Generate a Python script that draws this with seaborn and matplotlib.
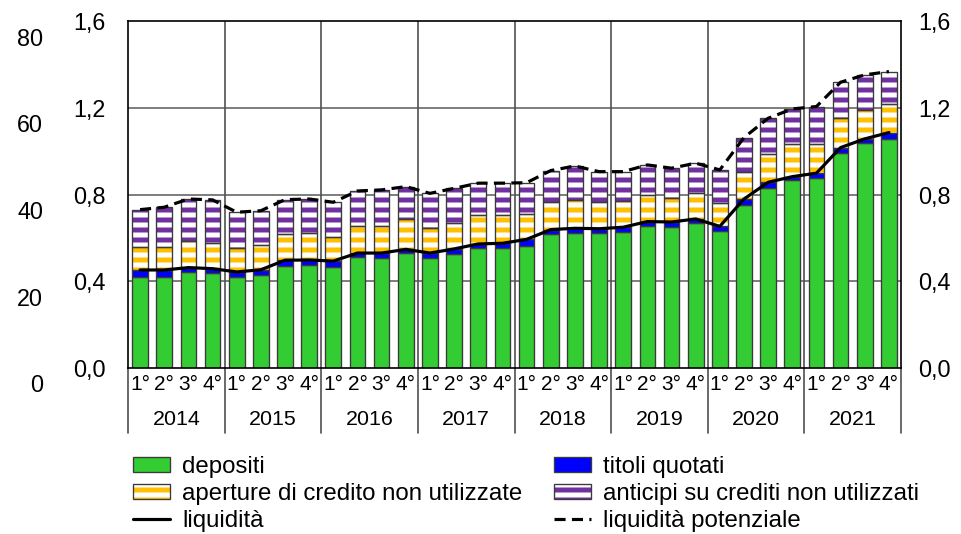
import numpy as np
import pandas as pd
import matplotlib
matplotlib.use("Agg")
import matplotlib.pyplot as plt
import matplotlib.transforms as mtransforms
from matplotlib.patches import Patch
from matplotlib.lines import Line2D
import seaborn as sns

# ---------------- data ----------------
years = ["2014", "2015", "2016", "2017", "2018", "2019", "2020", "2021"]
quarters = ["1°", "2°", "3°", "4°"]

depositi = [0.419, 0.419, 0.442, 0.438, 0.419, 0.430, 0.471, 0.477,
            0.467, 0.511, 0.510, 0.530, 0.507, 0.525, 0.553, 0.553,
            0.565, 0.617, 0.625, 0.622, 0.627, 0.654, 0.650, 0.668,
            0.633, 0.753, 0.829, 0.868, 0.876, 0.991, 1.037, 1.057]
titoli = [0.034, 0.034, 0.022, 0.021, 0.025, 0.024, 0.027, 0.022,
          0.027, 0.020, 0.021, 0.018, 0.024, 0.025, 0.020, 0.023,
          0.029, 0.022, 0.020, 0.021, 0.023, 0.022, 0.024, 0.020,
          0.022, 0.027, 0.028, 0.015, 0.023, 0.026, 0.020, 0.029]
aperture = [0.106, 0.104, 0.121, 0.117, 0.110, 0.113, 0.119, 0.123,
            0.110, 0.126, 0.126, 0.139, 0.117, 0.121, 0.133, 0.130,
            0.117, 0.129, 0.131, 0.125, 0.121, 0.123, 0.109, 0.118,
            0.108, 0.123, 0.131, 0.149, 0.133, 0.135, 0.133, 0.131]
anticipi = [0.172, 0.185, 0.195, 0.200, 0.165, 0.159, 0.160, 0.158,
            0.161, 0.160, 0.165, 0.150, 0.158, 0.158, 0.147, 0.147,
            0.144, 0.143, 0.156, 0.138, 0.135, 0.138, 0.139, 0.139,
            0.151, 0.160, 0.164, 0.163, 0.174, 0.166, 0.162, 0.150]
liquidita = [0.453, 0.453, 0.464, 0.459, 0.444, 0.454, 0.498, 0.499,
             0.494, 0.531, 0.531, 0.548, 0.531, 0.550, 0.573, 0.576,
             0.594, 0.639, 0.645, 0.643, 0.650, 0.676, 0.674, 0.688,
             0.654, 0.780, 0.857, 0.883, 0.899, 1.017, 1.057, 1.086]
potenziale = [0.731, 0.742, 0.780, 0.776, 0.719, 0.726, 0.777, 0.780,
              0.765, 0.817, 0.822, 0.837, 0.806, 0.829, 0.853, 0.853,
              0.855, 0.911, 0.932, 0.906, 0.906, 0.937, 0.922, 0.945,
              0.914, 1.063, 1.152, 1.195, 1.206, 1.318, 1.352, 1.367]

inner_ticks = [0.0, 0.4, 0.8, 1.2, 1.6]
inner_labels = ["0,0", "0,4", "0,8", "1,2", "1,6"]
outer_ticks = [0, 20, 40, 60, 80]
outer_labels = ["0", "20", "40", "60", "80"]

labels = {
    "dep": "depositi", "tit": "titoli quotati",
    "ape": "aperture di credito non utilizzate",
    "ant": "anticipi su crediti non utilizzati",
    "liq": "liquidità", "pot": "liquidità potenziale",
}

# ---------------- style ----------------
sns.set_theme(style="white")
plt.rcParams["font.family"] = ["Liberation Sans", "DejaVu Sans"]
plt.rcParams["hatch.linewidth"] = 3.0
plt.rcParams["text.color"] = "black"

GREEN = "#33CC33"
BLUE = "#0000FF"
YELLOW = "#FFC000"
PURPLE = "#7030A0"
EDGE = "#3a3a3a"

DPI = 120
fig = plt.figure(figsize=(961 / DPI, 534 / DPI), dpi=DPI)
W, H = 961, 534
L, R, T, B = 128, 901, 21, 368.3
ax = fig.add_axes([L / W, (H - B) / H, (R - L) / W, (B - T) / H])

df = pd.DataFrame({
    "pos": np.arange(len(depositi)),
    "depositi": depositi, "titoli": titoli,
    "aperture": aperture, "anticipi": anticipi,
    "liquidita": liquidita, "potenziale": potenziale,
})
x = df["pos"].to_numpy()
n = len(x)
bw = 0.65

# grid
for yv in inner_ticks[1:-1]:
    ax.axhline(yv, color="#808080", lw=1.2, zorder=0)
for k in range(1, len(years)):
    ax.axvline(k * 4 - 0.5, color="#505050", lw=1.0, zorder=0)

# stacked bars
bottom = np.zeros(n)
segs = [("depositi", GREEN, None), ("titoli", BLUE, None),
        ("aperture", YELLOW, "--"), ("anticipi", PURPLE, "--")]
for col, c, hatch in segs:
    v = df[col].to_numpy()
    if hatch is None:
        ax.bar(x, v, bw, bottom=bottom, color=c, edgecolor=EDGE, lw=0.8, zorder=2)
    else:
        ax.bar(x, v, bw, bottom=bottom, color=c, edgecolor="white", hatch=hatch,
               lw=0, zorder=2)
        ax.bar(x, v, bw, bottom=bottom, facecolor="none", edgecolor=EDGE,
               lw=0.8, zorder=2.1)
    bottom = bottom + v

# lines
sns.lineplot(data=df, x="pos", y="liquidita", ax=ax, color="black", lw=1.9,
             zorder=4, legend=False)
sns.lineplot(data=df, x="pos", y="potenziale", ax=ax, color="black", lw=1.9,
             linestyle=(0, (3.5, 2)), zorder=4, legend=False)

ax.set_xlim(-0.5, n - 0.5)
ax.set_ylim(0, 1.6)
ax.set_xlabel("")
ax.set_ylabel("")
for s in ax.spines.values():
    s.set_color("black")
    s.set_linewidth(1.0)

ax.set_yticks(inner_ticks)
ax.set_yticklabels(inner_labels)
ax.tick_params(axis="y", length=0, labelsize=14, labelleft=True, labelright=True,
               left=False, right=False, pad=10.5, colors="black")

ax.set_xticks(x)
ax.set_xticklabels([quarters[i % 4] for i in range(n)])
ax.tick_params(axis="x", length=0, labelsize=12.5, pad=4, colors="black")

# left inner labels: extra shift to the left
offs = mtransforms.ScaledTranslation(-5 / DPI, 0, fig.dpi_scale_trans)
for tk in ax.yaxis.get_major_ticks():
    tk.label1.set_transform(tk.label1.get_transform() + offs)

# year labels and separators below axis
trans = mtransforms.blended_transform_factory(ax.transData, ax.transAxes)
for k, yr in enumerate(years):
    ax.text(k * 4 + 1.5, -0.146, yr, transform=trans, ha="center", va="center",
            fontsize=12.8, color="black")
for k in range(len(years) + 1):
    ax.plot([k * 4 - 0.5, k * 4 - 0.5], [0, -0.185], transform=trans,
            color="#505050", lw=1.0, clip_on=False)

# outer left axis 0-80
ax2 = fig.add_axes([L / W, (H - 383) / H, (R - L) / W, 346 / H])
ax2.set_ylim(0, 80)
ax2.set_yticks(outer_ticks)
ax2.set_yticklabels(outer_labels)
ax2.set_xticks([])
ax2.patch.set_visible(False)
for s in ax2.spines.values():
    s.set_visible(False)
ax2.tick_params(axis="y", length=0, labelsize=14, pad=51, colors="black")

# legend
h_dep = Patch(facecolor=GREEN, edgecolor=EDGE, lw=0.8)
h_tit = Patch(facecolor=BLUE, edgecolor=EDGE, lw=0.8)
h_ape = (Patch(facecolor=YELLOW, edgecolor="white", hatch="--", lw=0),
         Patch(facecolor="none", edgecolor=EDGE, lw=0.8))
h_ant = (Patch(facecolor=PURPLE, edgecolor="white", hatch="--", lw=0),
         Patch(facecolor="none", edgecolor=EDGE, lw=0.8))
h_liq = Line2D([], [], color="black", lw=1.9)
h_pot = Line2D([], [], color="black", lw=1.9, linestyle=(0, (3.5, 2)))
handles = [h_dep, h_ape, h_liq, h_tit, h_ant, h_pot]
labs = [labels["dep"], labels["ape"], labels["liq"],
        labels["tit"], labels["ant"], labels["pot"]]
fig.legend(handles, labs, loc="upper left", bbox_to_anchor=(133 / W, 1 - 456 / H),
           ncol=2, frameon=False, fontsize=14.4, handlelength=1.55,
           handleheight=0.55, handletextpad=0.5, labelspacing=0.2,
           columnspacing=1.3, borderpad=0, borderaxespad=0, labelcolor="black")

fig.savefig("out.png", dpi=DPI)
